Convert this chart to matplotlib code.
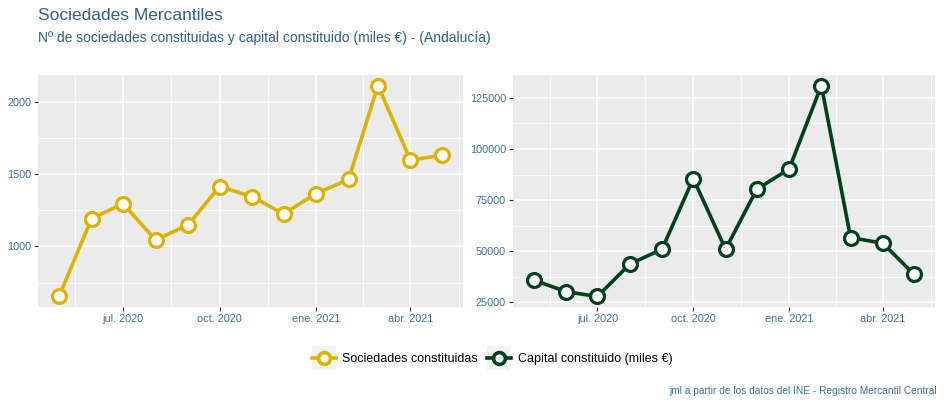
import matplotlib
matplotlib.use("Agg")
import matplotlib.pyplot as plt
import matplotlib.dates as mdates
from matplotlib.lines import Line2D
from matplotlib.patches import Rectangle
import datetime as dt

plt.rcParams['font.family'] = ['Liberation Sans', 'DejaVu Sans']

months = ["2020-05", "2020-06", "2020-07", "2020-08", "2020-09", "2020-10", "2020-11",
          "2020-12", "2021-01", "2021-02", "2021-03", "2021-04", "2021-05"]
sociedades = [654, 1192, 1295, 1045, 1148, 1413, 1344, 1224, 1365, 1462, 2111, 1595, 1630]
capital = [35900, 30200, 27900, 43700, 51000, 85500, 51000, 80300, 90200, 131000, 56700, 53900, 38700]
major_ticks = ["2020-07-01", "2020-10-01", "2021-01-01", "2021-04-01"]
major_labels = ["jul. 2020", "oct. 2020", "ene. 2021", "abr. 2021"]
left_yticks = [1000, 1500, 2000]
left_yminor = [750, 1250, 1750]
right_yticks = [25000, 50000, 75000, 100000, 125000]
right_yminor = [37500, 62500, 87500, 112500]

title = "Sociedades Mercantiles"
subtitle = "Nº de sociedades constituidas y capital constituido (miles €) - (Andalucía)"
caption = "jml a partir de los datos del INE - Registro Mercantil Central"
series_names = ["Sociedades constituidas", "Capital constituido (miles €)"]

GOLD = "#DBB300"
GREEN = "#00401C"
BLUE_TXT = "#3E6DA8"
TITLE_COL = "#2F5E8C"
BG = "#EBEBEB"

dates = [dt.datetime.strptime(m + "-01", "%Y-%m-%d") for m in months]
x = mdates.date2num(dates)
mt = mdates.date2num([dt.datetime.strptime(d, "%Y-%m-%d") for d in major_ticks])
step = mt[1] - mt[0]
minor = [mt[0] - step / 2] + [(mt[i] + mt[i + 1]) / 2 for i in range(len(mt) - 1)] + [mt[-1] + step / 2]

W, H = 944, 404
fig = plt.figure(figsize=(W / 100, H / 100), dpi=100)

def rect(l, t, r, b):
    return [l / W, 1 - b / H, (r - l) / W, (b - t) / H]

axL = fig.add_axes(rect(38, 75, 463, 307))
axR = fig.add_axes(rect(513, 75, 935, 307))

def style(ax, yt, ym, fmt):
    ax.set_facecolor(BG)
    for s in ax.spines.values():
        s.set_visible(False)
    ax.set_xticks(mt)
    ax.set_xticklabels(major_labels)
    ax.set_xticks(minor, minor=True)
    ax.set_yticks(yt)
    ax.set_yticklabels([fmt(v) for v in yt])
    ax.set_yticks(ym, minor=True)
    ax.grid(True, which="major", color="white", linewidth=1.1)
    ax.grid(True, which="minor", color="white", linewidth=0.55)
    ax.set_axisbelow(True)
    ax.tick_params(which="major", length=3, width=0.8, color="#333333",
                   labelcolor=BLUE_TXT, labelsize=7.8, pad=2)
    ax.tick_params(which="minor", length=0)
    span = x[-1] - x[0]
    ax.set_xlim(x[0] - 0.055 * span, x[-1] + 0.055 * span)

def draw(ax, y, col):
    ax.plot(x, y, color=col, linewidth=2.6, marker="o", markersize=10,
            markerfacecolor="white", markeredgecolor=col, markeredgewidth=2.3, zorder=3)
    lo, hi = min(y), max(y)
    pad = 0.05 * (hi - lo)
    ax.set_ylim(lo - pad, hi + pad)

draw(axL, sociedades, GOLD)
draw(axR, capital, GREEN)
style(axL, left_yticks, left_yminor, lambda v: f"{v}")
style(axR, right_yticks, right_yminor, lambda v: f"{v}")

fig.text(38 / W, 1 - 16 / H, title, color=TITLE_COL, fontsize=12.5, va="center", ha="left")
fig.text(38 / W, 1 - 38 / H, subtitle, color=TITLE_COL, fontsize=10, va="center", ha="left")
fig.text(937 / W, 1 - 391 / H, caption, color=BLUE_TXT, fontsize=7.3, va="center", ha="right")

handles = [Line2D([], [], color=c, linewidth=2.6, marker="o", markersize=8.5,
                  markerfacecolor="white", markeredgecolor=c, markeredgewidth=2.6)
           for c in (GOLD, GREEN)]
leg = fig.legend(handles, series_names, loc="center", bbox_to_anchor=(492 / W, 1 - 359 / H),
                 ncol=2, frameon=False, fontsize=9, handlelength=1.9, handletextpad=0.55,
                 columnspacing=0.7, borderpad=0)
fig.canvas.draw()
for h in leg.legend_handles:
    bb = h.get_window_extent(fig.canvas.get_renderer())
    cx = (bb.x0 + bb.x1) / 2
    cy = (bb.y0 + bb.y1) / 2
    fig.patches.append(Rectangle(((cx - 12) / W, (cy - 12) / H), 24 / W, 24 / H,
                                 transform=fig.transFigure, facecolor="#F2F2F2",
                                 edgecolor="none", zorder=0))

fig.savefig("out.png", dpi=100)
